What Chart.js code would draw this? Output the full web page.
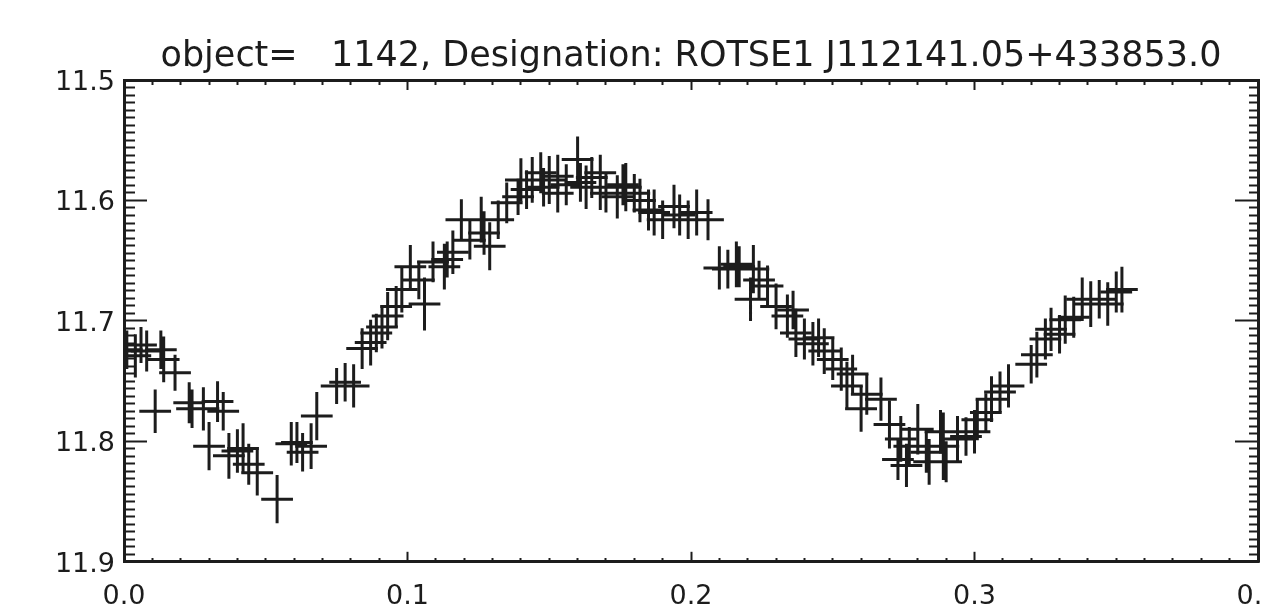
<!DOCTYPE html>
<html>
<head>
<meta charset="utf-8">
<script src="https://cdn.jsdelivr.net/npm/chart.js@4.4.1/dist/chart.umd.min.js"></script>
<style>
  html, body { margin: 0; padding: 0; background: #fff; overflow: hidden; }
  /* canvas wider than the window: the "0.4" label gets cut at the right edge like in the picture */
  #wrap { width: 1309px; height: 610px; position: relative; }
</style>
</head>
<body>
<div id="wrap"><canvas id="lc"></canvas></div>
<script>
// --- Data ---
const titleText = 'object=   1142, Designation: ROTSE1 J112141.05+433853.0';

const phase = [
  0.001, 0.004, 0.006, 0.008, 0.011, 0.013, 0.014, 0.018, 0.023, 0.024,
  0.028, 0.030, 0.033, 0.035, 0.037, 0.040, 0.042, 0.044, 0.047, 0.054,
  0.059, 0.061, 0.063, 0.066, 0.068, 0.075, 0.078, 0.081, 0.084, 0.087,
  0.089, 0.091, 0.093, 0.096, 0.098, 0.101, 0.104, 0.106, 0.109, 0.113,
  0.114, 0.116, 0.119, 0.122, 0.126, 0.127, 0.129, 0.132, 0.135, 0.139,
  0.140, 0.142, 0.144, 0.147, 0.148, 0.150, 0.153, 0.153, 0.156, 0.160,
  0.161, 0.163, 0.165, 0.168, 0.168, 0.170, 0.174, 0.176, 0.177, 0.180,
  0.182, 0.185, 0.187, 0.190, 0.194, 0.196, 0.199, 0.202, 0.206, 0.210,
  0.213, 0.216, 0.217, 0.221, 0.222, 0.224, 0.227, 0.230, 0.234, 0.236,
  0.237, 0.240, 0.243, 0.245, 0.247, 0.250, 0.253, 0.255, 0.257, 0.260,
  0.262, 0.267, 0.270, 0.273, 0.274, 0.276, 0.277, 0.280, 0.283, 0.284,
  0.288, 0.289, 0.290, 0.294, 0.297, 0.300, 0.301, 0.304, 0.306, 0.309,
  0.312, 0.320, 0.322, 0.325, 0.327, 0.330, 0.332, 0.335, 0.338, 0.341,
  0.344, 0.347, 0.350, 0.352
];

const mag = [
  11.724, 11.729, 11.720, 11.725, 11.775, 11.724, 11.732, 11.743, 11.768, 11.773,
  11.773, 11.804, 11.767, 11.775, 11.812, 11.808, 11.806, 11.819, 11.826, 11.848,
  11.802, 11.801, 11.809, 11.804, 11.779, 11.754, 11.751, 11.754, 11.723, 11.718,
  11.710, 11.705, 11.696, 11.688, 11.674, 11.655, 11.666, 11.686, 11.651, 11.655,
  11.649, 11.643, 11.616, 11.633, 11.616, 11.627, 11.638, 11.616, 11.602, 11.597,
  11.583, 11.591, 11.583, 11.577, 11.589, 11.583, 11.580, 11.594, 11.587, 11.566,
  11.585, 11.589, 11.581, 11.577, 11.589, 11.594, 11.597, 11.587, 11.589, 11.594,
  11.600, 11.608, 11.610, 11.616, 11.605, 11.612, 11.616, 11.610, 11.616, 11.656,
  11.657, 11.653, 11.655, 11.682, 11.657, 11.666, 11.671, 11.688, 11.696, 11.691,
  11.710, 11.715, 11.719, 11.714, 11.725, 11.732, 11.740, 11.754, 11.744, 11.773,
  11.761, 11.765, 11.786, 11.815, 11.798, 11.820, 11.804, 11.790, 11.809, 11.817,
  11.792, 11.804, 11.817, 11.798, 11.796, 11.792, 11.782, 11.776, 11.765, 11.759,
  11.754, 11.736, 11.728, 11.715, 11.707, 11.711, 11.699, 11.697, 11.682, 11.686,
  11.682, 11.686, 11.676, 11.674
];

const magErr = [
  0.016, 0.018, 0.015, 0.017, 0.018, 0.016, 0.019, 0.015, 0.017, 0.016,
  0.018, 0.020, 0.017, 0.016, 0.019, 0.018, 0.021, 0.017, 0.019, 0.020,
  0.018, 0.017, 0.016, 0.019, 0.020, 0.015, 0.016, 0.018, 0.017, 0.019,
  0.016, 0.018, 0.020, 0.017, 0.019, 0.018, 0.016, 0.022, 0.017, 0.019,
  0.015, 0.018, 0.017, 0.016, 0.019, 0.018, 0.020, 0.016, 0.017, 0.015,
  0.018, 0.016, 0.019, 0.017, 0.016, 0.020, 0.018, 0.016, 0.017, 0.019,
  0.016, 0.018, 0.017, 0.015, 0.019, 0.016, 0.018, 0.017, 0.020, 0.016,
  0.018, 0.017, 0.019, 0.016, 0.018, 0.017, 0.016, 0.019, 0.017, 0.018,
  0.016, 0.019, 0.017, 0.018, 0.020, 0.016, 0.017, 0.019, 0.018, 0.016,
  0.020, 0.017, 0.018, 0.016, 0.019, 0.017, 0.018, 0.020, 0.016, 0.019,
  0.017, 0.018, 0.020, 0.017, 0.019, 0.018, 0.016, 0.021, 0.017, 0.019,
  0.018, 0.028, 0.017, 0.019, 0.016, 0.018, 0.017, 0.016, 0.019, 0.017,
  0.018, 0.016, 0.019, 0.017, 0.018, 0.016, 0.020, 0.017, 0.018, 0.019,
  0.016, 0.018, 0.017, 0.019
];

// horizontal arm of each cross (phase units, half width)
const phaseHalf = 0.0056;

// axis ranges / ticks
const xMin = 0.0, xMax = 0.4, xMajor = 0.1, xMinor = 0.01;
const yMin = 11.5, yMax = 11.9, yMajor = 0.1, yMinor = 0.00625;

// --- Styles ---
const ink = '#1c1c1c';
const tickFont = { family: 'DejaVu Sans', size: 27 };
const titleFont = { family: 'DejaVu Sans', size: 35, weight: 'normal' };

// --- Error bars as broken line segments ---
const vBars = [];
const hBars = [];
phase.forEach((p, i) => {
  vBars.push({ x: p, y: mag[i] - magErr[i] }, { x: p, y: mag[i] + magErr[i] }, { x: p, y: null });
  hBars.push({ x: p - phaseHalf, y: mag[i] }, { x: p + phaseHalf, y: mag[i] }, { x: p, y: null });
});

const isMajor = (v, step) => Math.abs(v / step - Math.round(v / step)) < 1e-6;

// tick dash: ticks are drawn inward (negative tickLength), minor ones shortened with a dash
// fromInside: line starts at inner end (top / left axes)
function tickDash(step, major, minor, fromInside) {
  return (ctx) => {
    const v = ctx.tick ? ctx.tick.value : 0;
    if (isMajor(v, step)) return [];
    return fromInside ? [0, major - minor, minor, 200] : [minor, 200];
  };
}

function axis(opts) {
  const { pos, min, max, step, minor, major, minorLen, labels, size, reverse, fromInside } = opts;
  return {
    type: 'linear',
    position: pos,
    min: min, max: max,
    reverse: !!reverse,
    border: { display: true, color: ink, width: 3 },
    grid: {
      drawOnChartArea: false,
      drawTicks: true,
      tickLength: -major,
      tickWidth: 2,
      tickColor: ink,
      tickBorderDash: tickDash(step, major, minorLen, fromInside)
    },
    ticks: {
      display: labels,
      stepSize: minor,
      autoSkip: false,
      maxRotation: 0,
      color: ink,
      font: tickFont,
      padding: opts.padding || 0,
      labelOffset: opts.labelOffset || 0,
      callback: (v) => isMajor(v, step) ? v.toFixed(1) : ''
    },
    afterFit: (scale) => {
      if (scale.isHorizontal()) scale.height = size; else scale.width = size;
    }
  };
}

new Chart(document.getElementById('lc'), {
  type: 'scatter',
  data: {
    datasets: [
      { data: vBars, showLine: true, spanGaps: false, borderColor: ink, borderWidth: 3, pointRadius: 0, xAxisID: 'x', yAxisID: 'y' },
      { data: hBars, showLine: true, spanGaps: false, borderColor: ink, borderWidth: 3, pointRadius: 0, xAxisID: 'x', yAxisID: 'y' }
    ]
  },
  options: {
    responsive: true,
    maintainAspectRatio: false,
    animation: false,
    layout: { padding: 0 },
    plugins: {
      legend: { display: false },
      tooltip: { enabled: false },
      title: {
        display: true,
        text: titleText,
        color: ink,
        font: titleFont,
        fullSize: false,
        padding: { top: 36, bottom: 2 }
      }
    },
    scales: {
      x: axis({ pos: 'bottom', min: xMin, max: xMax, step: xMajor, minor: xMinor, major: 10, minorLen: 5, labels: true, size: 47, padding: 29 }),
      x2: axis({ pos: 'top', min: xMin, max: xMax, step: xMajor, minor: xMinor, major: 10, minorLen: 5, labels: false, size: 0, fromInside: true }),
      y: axis({ pos: 'left', min: yMin, max: yMax, step: yMajor, minor: yMinor, major: 23, minorLen: 11, labels: true, size: 124, reverse: true, padding: 32, labelOffset: 3, fromInside: true }),
      y2: axis({ pos: 'right', min: yMin, max: yMax, step: yMajor, minor: yMinor, major: 23, minorLen: 11, labels: false, size: 51, reverse: true })
    }
  }
});
</script>
</body>
</html>
